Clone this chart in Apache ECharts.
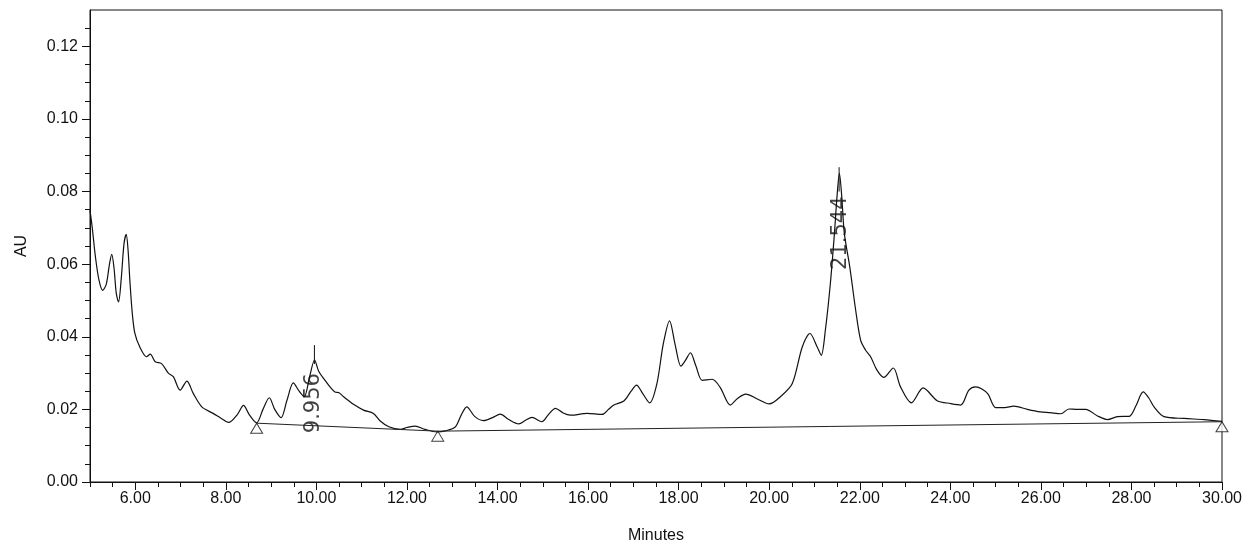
<!DOCTYPE html>
<html>
<head>
<meta charset="utf-8">
<script src="https://cdn.jsdelivr.net/npm/echarts@6/dist/echarts.min.js"></script>
<style>
html,body{margin:0;padding:0;background:#fff;}
#chart{width:1258px;height:545px;}
</style>
</head>
<body>
<div id="chart"></div>
<script>
// Chromatogram trace (minutes, AU)
var timeMin = [5.00,5.05,5.12,5.20,5.28,5.36,5.43,5.48,5.53,5.58,5.63,5.69,5.75,5.80,5.84,5.88,5.93,5.99,6.10,6.25,6.33,6.44,6.58,6.73,6.84,6.99,7.14,7.28,7.47,7.72,7.90,8.06,8.25,8.39,8.52,8.68,8.82,8.96,9.08,9.22,9.35,9.49,9.62,9.73,9.85,9.96,10.05,10.19,10.30,10.41,10.50,10.60,10.82,11.04,11.26,11.41,11.60,11.85,12.00,12.18,12.40,12.66,12.85,13.07,13.20,13.32,13.50,13.69,13.90,14.06,14.25,14.47,14.62,14.76,14.98,15.12,15.28,15.45,15.61,15.98,16.31,16.45,16.57,16.79,16.95,17.07,17.20,17.36,17.52,17.66,17.80,17.92,18.05,18.15,18.26,18.38,18.52,18.74,18.92,19.14,19.30,19.48,19.75,20.00,20.25,20.51,20.73,20.90,21.06,21.15,21.24,21.35,21.44,21.50,21.55,21.60,21.66,21.78,21.91,22.02,22.13,22.24,22.38,22.53,22.74,22.90,23.14,23.40,23.71,24.01,24.23,24.41,24.56,24.82,25.00,25.20,25.40,25.70,25.99,26.20,26.44,26.62,26.80,26.99,27.25,27.47,27.69,27.95,28.10,28.26,28.38,28.50,28.72,29.16,29.60,30.00];
var absAU = [0.0748,0.0700,0.0620,0.0555,0.0528,0.0545,0.0600,0.0627,0.0590,0.0520,0.0496,0.0560,0.0655,0.0682,0.0640,0.0556,0.0470,0.0410,0.0372,0.0345,0.0352,0.0331,0.0326,0.0300,0.0290,0.0253,0.0278,0.0244,0.0207,0.0189,0.0175,0.0164,0.0185,0.0211,0.0185,0.0163,0.0200,0.0232,0.0200,0.0177,0.0225,0.0273,0.0250,0.0235,0.0290,0.0336,0.0305,0.0280,0.0262,0.0248,0.0246,0.0235,0.0214,0.0198,0.0189,0.0168,0.0152,0.0145,0.0150,0.0154,0.0145,0.0138,0.0141,0.0152,0.0185,0.0207,0.0180,0.0169,0.0178,0.0187,0.0172,0.0160,0.0170,0.0178,0.0166,0.0185,0.0203,0.0190,0.0184,0.0189,0.0186,0.0200,0.0212,0.0223,0.0250,0.0267,0.0245,0.0218,0.0271,0.0380,0.0444,0.0380,0.0319,0.0335,0.0356,0.0320,0.0280,0.0283,0.0260,0.0212,0.0230,0.0242,0.0228,0.0215,0.0235,0.0271,0.0372,0.0409,0.0372,0.0349,0.0418,0.0546,0.0684,0.0790,0.0850,0.0790,0.0684,0.0592,0.0473,0.0390,0.0363,0.0345,0.0308,0.0288,0.0314,0.0262,0.0218,0.0259,0.0224,0.0216,0.0212,0.0253,0.0262,0.0244,0.0205,0.0205,0.0209,0.0200,0.0193,0.0191,0.0188,0.0201,0.0200,0.0200,0.0182,0.0172,0.0180,0.0181,0.0210,0.0248,0.0232,0.0207,0.0180,0.0175,0.0172,0.0167];

// Integration baseline and its start/end markers
var baselineTime = [8.68, 12.68, 30.00];
var baselineAU = [0.0162, 0.0140, 0.0166];

// Labelled peaks
var peakTime = [9.956, 21.544];
var peakTopAU = [0.0377, 0.0867];
var peakNeedleEndAU = [0.0325, 0.0800];

// Axis ticks
var xMajorTicks = [6,8,10,12,14,16,18,20,22,24,26,28,30];
var xMinorTicks = [5,5.5,6.5,7,7.5,8.5,9,9.5,10.5,11,11.5,12.5,13,13.5,14.5,15,15.5,16.5,17,17.5,18.5,19,19.5,20.5,21,21.5,22.5,23,23.5,24.5,25,25.5,26.5,27,27.5,28.5,29,29.5];
var yMajorTicks = [0,0.02,0.04,0.06,0.08,0.10,0.12];
var yMinorTicks = [0.005,0.01,0.015,0.025,0.03,0.035,0.045,0.05,0.055,0.065,0.07,0.075,0.085,0.09,0.095,0.105,0.11,0.115,0.125];

function zip(a, b) { var r = []; for (var i = 0; i < a.length; i++) r.push([a[i], b[i]]); return r; }

var FONT = 'Liberation Sans';
var TXT = '#111';
var chart = echarts.init(document.getElementById('chart'));

var series = [
  { type: 'line', data: zip(timeMin, absAU), showSymbol: false, smooth: 0.3, silent: true,
    lineStyle: { color: '#111', width: 1.2 } },
  { type: 'line', data: zip(baselineTime, baselineAU), showSymbol: false, silent: true,
    lineStyle: { color: '#222', width: 1 } },
  { type: 'scatter', data: zip(baselineTime, baselineAU), symbol: 'triangle', symbolSize: [12, 10],
    symbolOffset: [0, 5], silent: true,
    itemStyle: { color: '#fff', borderColor: '#111', borderWidth: 1 } }
];
// rotated label offsets: [along text (negative = down on screen), across (positive = right)]
var labelOffsets = [[-58, -1], [-66, 1]];
for (var i = 0; i < peakTime.length; i++) {
  series.push({ type: 'line', data: [[peakTime[i], peakTopAU[i]], [peakTime[i], peakNeedleEndAU[i]]],
    showSymbol: false, silent: true, lineStyle: { color: '#111', width: 1 } });
}
series.push({
  type: 'scatter', silent: true, symbolSize: 1, itemStyle: { color: 'rgba(0,0,0,0)' },
  data: peakTime.map(function (t, i) {
    return { value: [t, peakTopAU[i]],
      label: { offset: labelOffsets[i] } };
  }),
  label: { show: true, position: 'inside', rotate: 90, fontFamily: 'DejaVu Sans', fontSize: 21, color: '#111',
    formatter: function (p) { return p.value[0].toFixed(3); } }
});

chart.setOption({
  animation: false,
  backgroundColor: '#fff',
  grid: { left: 90, right: 36, top: 10, bottom: 63, outerBoundsMode: 'none', containLabel: false,
    show: true, borderColor: '#111', borderWidth: 1 },
  xAxis: [
    { type: 'value', min: 5, max: 30, position: 'bottom',
      name: 'Minutes', nameLocation: 'middle', nameGap: 46,
      nameTextStyle: { fontFamily: FONT, fontSize: 16, color: TXT },
      axisLine: { lineStyle: { color: '#111', width: 1 } },
      axisTick: { customValues: xMajorTicks, length: 8, lineStyle: { color: '#111' } },
      axisLabel: { customValues: xMajorTicks, margin: 9, fontFamily: FONT, fontSize: 16, color: TXT,
        formatter: function (v) { return v.toFixed(2); } },
      splitLine: { show: false } },
    { type: 'value', min: 5, max: 30, position: 'bottom',
      axisLine: { show: false },
      axisTick: { customValues: xMinorTicks, length: 5, lineStyle: { color: '#111' } },
      axisLabel: { show: false }, splitLine: { show: false } }
  ],
  yAxis: [
    { type: 'value', min: 0, max: 0.13, position: 'left',
      name: 'AU', nameLocation: 'middle', nameGap: 60,
      nameTextStyle: { fontFamily: FONT, fontSize: 16, color: TXT },
      axisLine: { show: true, lineStyle: { color: '#111', width: 1 } },
      axisTick: { show: true, customValues: yMajorTicks, length: 8, lineStyle: { color: '#111' } },
      axisLabel: { customValues: yMajorTicks, margin: 12, fontFamily: FONT, fontSize: 16, color: TXT,
        formatter: function (v) { return v.toFixed(2); } },
      splitLine: { show: false } },
    { type: 'value', min: 0, max: 0.13, position: 'left',
      axisLine: { show: false },
      axisTick: { show: true, customValues: yMinorTicks, length: 5, lineStyle: { color: '#111' } },
      axisLabel: { show: false }, splitLine: { show: false } }
  ],
  series: series
});
</script>
</body>
</html>
